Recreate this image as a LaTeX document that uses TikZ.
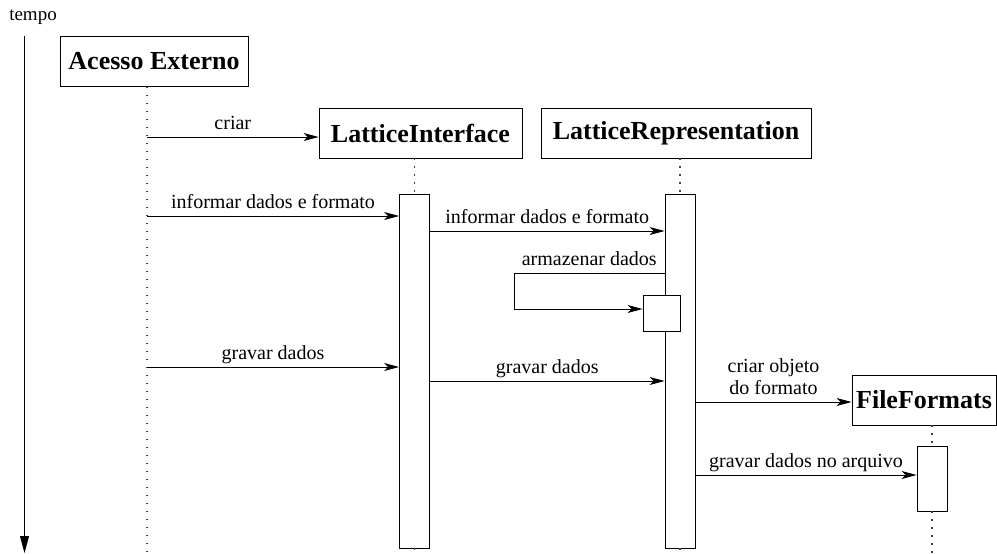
\documentclass[tikz,border=0pt]{standalone}
\usepackage{fontspec}
\setmainfont{Liberation Serif}
\usetikzlibrary{arrows.meta}

\begin{document}
\begin{tikzpicture}[x=1pt, y=-1pt, line width=0.9pt, >=latex]
        \tikzstyle{obj} = [draw, rectangle, minimum height=50pt, inner xsep=4pt, font=\fontsize{26}{30}\selectfont\bfseries]
        \tikzstyle{act} = [draw, rectangle, fill=white, minimum width=30pt, inner sep=0pt]
        \tikzstyle{msg} = [-{Stealth[length=15pt, width=8pt, inset=4pt]}]
        \tikzstyle{life} = [black!75, line width=1.2pt, dash pattern=on 1.2pt off 6.8pt]
        \tikzstyle{lbl} = [anchor=base, yshift=8pt, inner sep=0pt, font=\fontsize{20}{22}\selectfont]

        \useasboundingbox (0,0) rectangle (997,554);

        \node [font=\fontsize{19}{22}\selectfont, anchor=base, inner sep=0pt] (tempo) at (33,20) {tempo};
        \coordinate (tstart) at (24.5,36);
        \coordinate (tend) at (24.5,553);
        \draw [-{Triangle[length=17pt, width=9pt]}] (tstart) -- (tend);

        \node [obj, minimum width=188pt] (acesso) at (154,61.5) {Acesso Externo};
        \node [obj, minimum width=203pt] (li) at (420.5,133) {LatticeInterface};
        \node [obj, minimum width=270pt] (lr) at (676,133) {LatticeRepresentation};
        \node [obj, minimum width=144pt] (ff) at (924,400) {FileFormats};

        \coordinate (bottom) at (0,554);
        \coordinate (aeline) at ([xshift=-7pt]acesso.south);
        \coordinate (loop) at (514,309);
        \foreach \n/\y in {rcriar/137, rinf1/216, rinf2/231, rarm/273, rgrav1/367, rgrav2/381, robj/402, rarq/475}
          \coordinate (\n) at (0,\y);

        \node [act, minimum height=354pt] (liact) at (414.5,371) {};
        \node [act, minimum height=354pt] (lract) at (680,371) {};
        \node [act, minimum height=65pt] (ffact) at (932,478.5) {};

        \draw [life] (aeline) -- (aeline |- bottom);
        \draw [life] (liact |- li.south) -- (liact.north);
        \draw [life] (liact.south) -- (liact.south |- bottom);
        \draw [life] (lract |- lr.south) -- (lract.north);
        \draw [life] (lract.south) -- (lract.south |- bottom);
        \draw [life] (ffact |- ff.south) -- (ffact.north);
        \draw [life] (ffact.south) -- (ffact.south |- bottom);

        \node [act, minimum width=37pt, minimum height=36pt] (store) at (661.5,313) {};

        \draw [msg] (aeline |- rcriar) -- node [lbl] {criar} (li.west |- rcriar);
        \draw [msg] (aeline |- rinf1) -- node [lbl] {informar dados e formato} (liact.west |- rinf1);
        \draw [msg] (liact.east |- rinf2) -- node [lbl] {informar dados e formato} (lract.west |- rinf2);
        \draw [msg] (lract.west |- rarm) -- node [lbl] {armazenar dados} (loop |- rarm) -- (loop) -- (store.west |- loop);
        \draw [msg] (aeline |- rgrav1) -- node [lbl] {gravar dados} (liact.west |- rgrav1);
        \draw [msg] (liact.east |- rgrav2) -- node [lbl] {gravar dados} (lract.west |- rgrav2);
        \draw [msg] (lract.east |- robj) -- node [lbl, anchor=south, yshift=-1pt, align=center] {criar objeto\\do formato} (ff.west |- robj);
        \draw [msg] (lract.east |- rarq) -- node [lbl] {gravar dados no arquivo} (ffact.west |- rarq);
    \end{tikzpicture}
\end{document}
